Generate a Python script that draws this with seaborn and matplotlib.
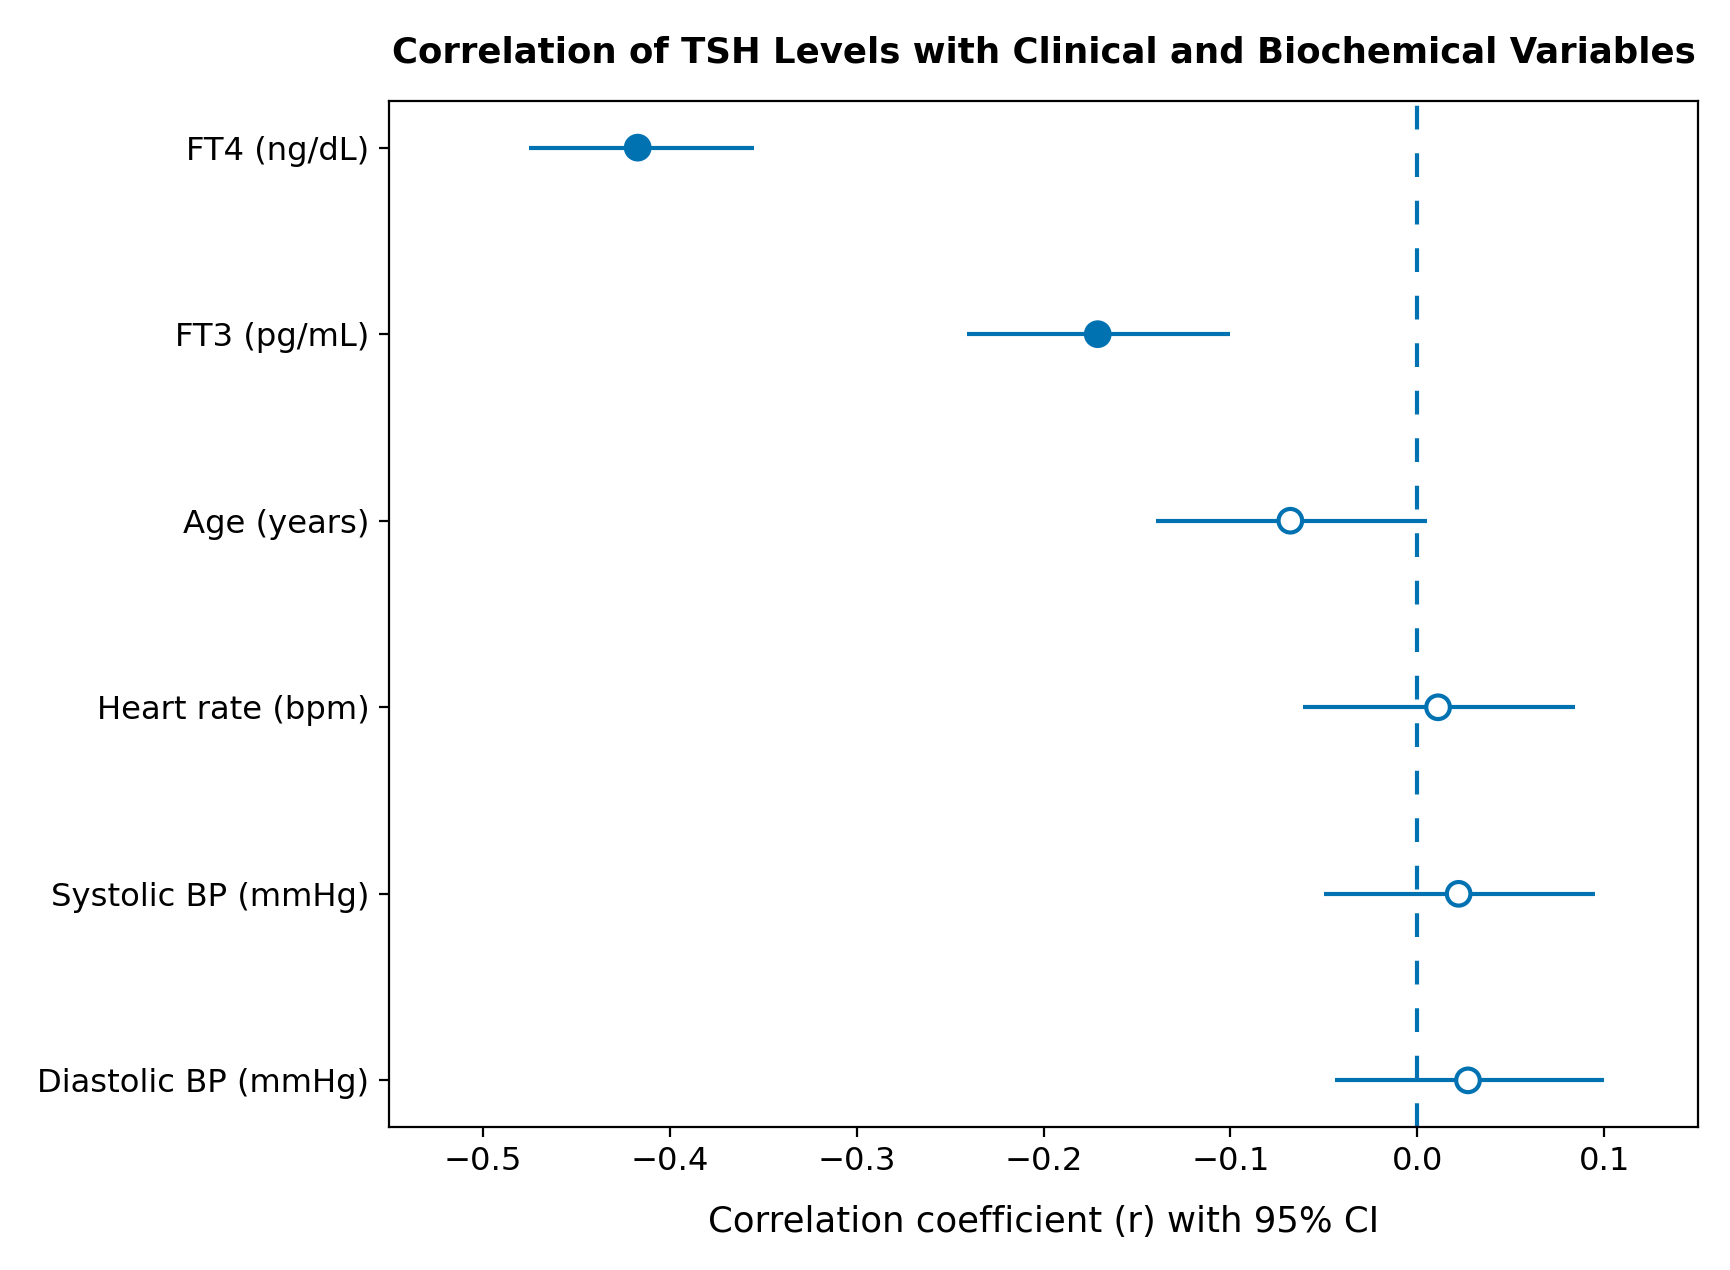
import numpy as np
import pandas as pd
import matplotlib
matplotlib.use("Agg")
import matplotlib.pyplot as plt
import seaborn as sns

variables = ["FT4 (ng/dL)", "FT3 (pg/mL)", "Age (years)", "Heart rate (bpm)",
             "Systolic BP (mmHg)", "Diastolic BP (mmHg)"]
r_values = [-0.417, -0.171, -0.068, 0.011, 0.022, 0.027]
ci_low = [-0.475, -0.241, -0.140, -0.061, -0.050, -0.044]
ci_high = [-0.355, -0.100, 0.005, 0.084, 0.095, 0.100]
significant = [True, True, False, False, False, False]

sns.set_style("ticks")
plt.rcParams["font.family"] = ["DejaVu Sans"]
plt.rcParams["text.color"] = "black"
plt.rcParams["axes.labelcolor"] = "black"
plt.rcParams["xtick.color"] = "black"
plt.rcParams["ytick.color"] = "black"
plt.rcParams["axes.edgecolor"] = "black"

color = "#0072B2"
df = pd.DataFrame({"variable": variables, "r": r_values, "lo": ci_low,
                   "hi": ci_high, "sig": significant})
df["pos"] = np.arange(len(df))

fig = plt.figure(figsize=(8.655, 6.35), dpi=200)
ax = fig.add_axes([389 / 1731, 1 - 1127 / 1270, (1698 - 389) / 1731, (1127 - 101) / 1270])

ax.axvline(0, color=color, lw=1.5, ls=(0, (5.7, 5.7)), zorder=1)
ax.errorbar(df["r"], df["pos"],
            xerr=[df["r"] - df["lo"], df["hi"] - df["r"]],
            fmt="none", ecolor=color, elinewidth=1.5, capsize=0, zorder=2)
face = [color if s else "white" for s in df["sig"]]
sns.scatterplot(data=df, x="r", y="pos", ax=ax, s=72, marker="o",
                color=face, edgecolor=color, linewidth=1.5, zorder=3, legend=False)

ax.set_yticks(df["pos"])
ax.set_yticklabels(df["variable"])
ax.invert_yaxis()
ax.set_xlim(-0.55, 0.15)
ax.set_xticks([-0.5, -0.4, -0.3, -0.2, -0.1, 0.0, 0.1])
ax.tick_params(axis="both", labelsize=11.6, length=3.5, width=0.8, direction="out",
               colors="black")
for sp in ax.spines.values():
    sp.set_linewidth(0.8)
    sp.set_color("black")
ax.set_xlabel("Correlation coefficient (r) with 95% CI", fontsize=12.8, labelpad=10)
ax.set_ylabel("")
ax.set_title("Correlation of TSH Levels with Clinical and Biochemical Variables",
             fontsize=12.8, fontweight="bold", pad=14)

fig.savefig("out.png", dpi=200)
